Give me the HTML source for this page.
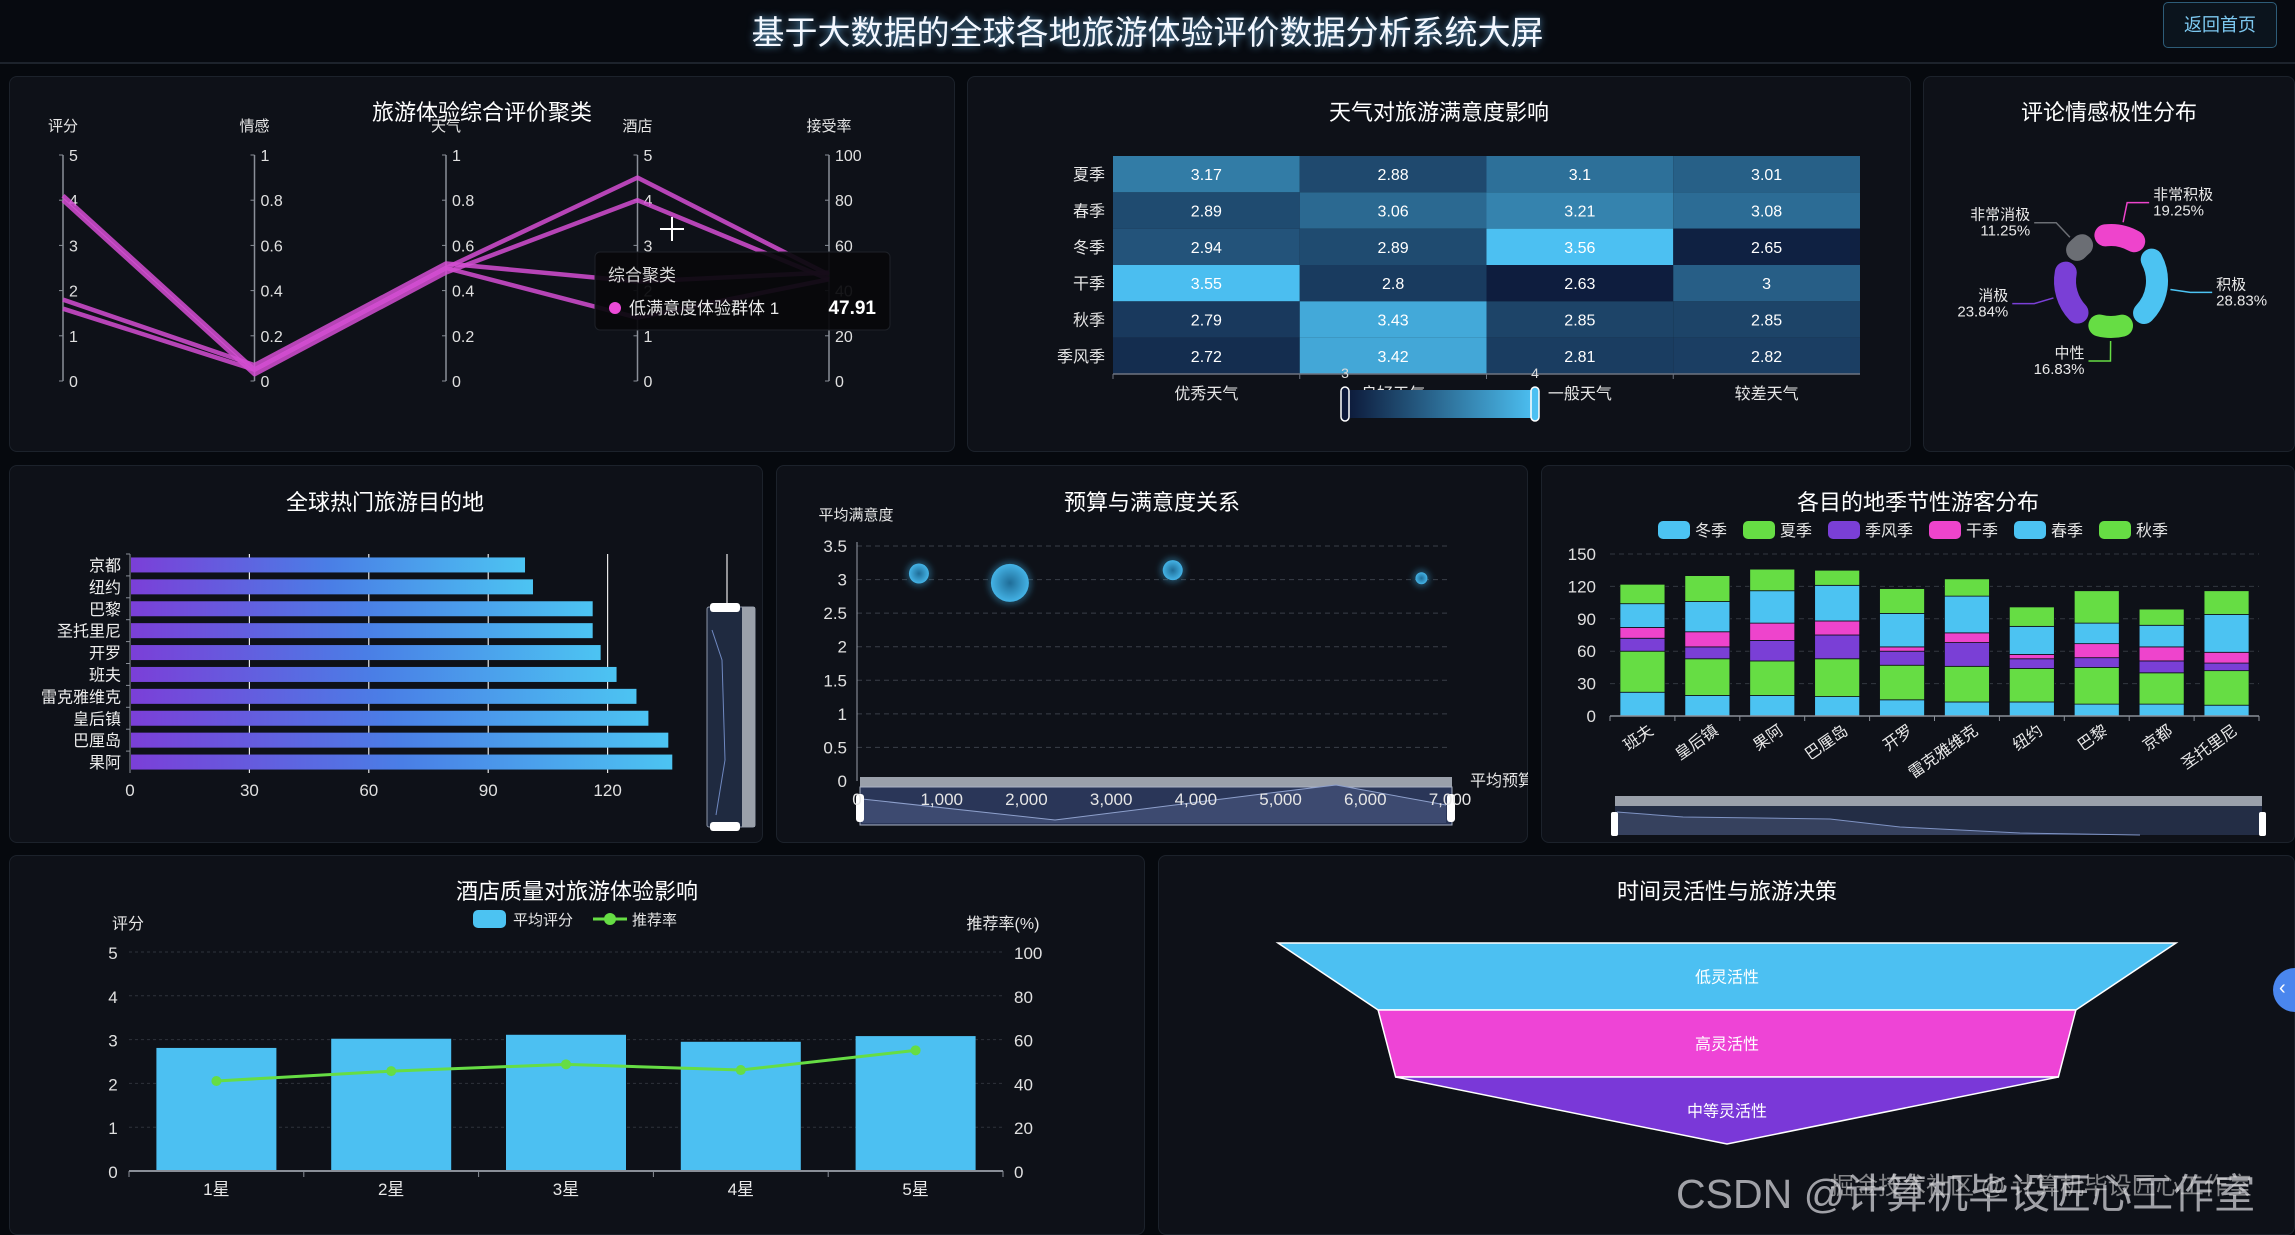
<!DOCTYPE html>
<html><head><meta charset="utf-8">
<style>
html,body{margin:0;padding:0;}
body{width:2295px;height:1229px;background:#06090e;overflow:hidden;position:relative;font-family:"Liberation Sans","Noto Sans CJK SC",sans-serif;color:#fff;}
.hdr{position:absolute;left:0;top:0;width:2295px;height:62px;border-bottom:2px solid #1d232c;background:#070a10;}
.htitle{position:absolute;left:0;width:2295px;top:6px;text-align:center;font-size:33px;color:#f4f8ff;text-shadow:0 0 8px rgba(120,200,255,.8);}
.btn{position:absolute;left:2163px;top:2px;width:112px;height:44px;border:1px solid #2d5c78;border-radius:5px;color:#7cc8f0;font-size:18px;line-height:44px;text-align:center;background:#0b141d;}
.panel{position:absolute;background:#0e1118;border:1px solid #1c222b;border-radius:8px;box-sizing:border-box;}
svg text{font-family:"Liberation Sans","Noto Sans CJK SC",sans-serif;}
</style></head>
<body>
<div class="hdr">
<div class="htitle">基于大数据的全球各地旅游体验评价数据分析系统大屏</div>
<div class="btn">返回首页</div>
</div>
<div class="panel" style="left:9px;top:76px;width:946px;height:376px"></div>
<div class="panel" style="left:967px;top:76px;width:944px;height:376px"></div>
<div class="panel" style="left:1923px;top:76px;width:372px;height:376px"></div>
<div class="panel" style="left:9px;top:465px;width:754px;height:378px"></div>
<div class="panel" style="left:776px;top:465px;width:752px;height:378px"></div>
<div class="panel" style="left:1541px;top:465px;width:754px;height:378px"></div>
<div class="panel" style="left:9px;top:855px;width:1136px;height:380px"></div>
<div class="panel" style="left:1158px;top:855px;width:1137px;height:380px"></div>

<svg id="charts" width="2295" height="1229" style="position:absolute;left:0;top:0">
<defs>
<linearGradient id="hbarGrad" x1="0" x2="1" y1="0" y2="0"><stop offset="0" stop-color="#7b3fd8"/><stop offset="0.5" stop-color="#4a7ee6"/><stop offset="1" stop-color="#4cc4f2"/></linearGradient>
<linearGradient id="vmGrad" x1="0" x2="1" y1="0" y2="0"><stop offset="0" stop-color="#0c1838"/><stop offset="1" stop-color="#4cc0f2"/></linearGradient>
<radialGradient id="bubbleGrad"><stop offset="0" stop-color="#1f6d98"/><stop offset="1" stop-color="#44b3e6"/></radialGradient>
<filter id="glow" x="-50%" y="-50%" width="200%" height="200%"><feGaussianBlur stdDeviation="3"/></filter>
<clipPath id="budgetClip"><rect x="776" y="465" width="752" height="378"/></clipPath>
</defs>
<g fill="#ffffff" font-size="22" text-anchor="middle">
<text x="482" y="120">旅游体验综合评价聚类</text>
<text x="1439" y="120">天气对旅游满意度影响</text>
<text x="2109" y="120">评论情感极性分布</text>
<text x="385" y="510">全球热门旅游目的地</text>
<text x="1152" y="510">预算与满意度关系</text>
<text x="1918" y="510">各目的地季节性游客分布</text>
<text x="577" y="899">酒店质量对旅游体验影响</text>
<text x="1727" y="899">时间灵活性与旅游决策</text>
</g>
</svg>
<div style="position:absolute;left:2273px;top:968px;width:44px;height:44px;border-radius:22px;background:#4a86ee;"><span style="position:absolute;left:6px;top:9px;color:#fff;font-size:20px">‹</span></div>
<div style="position:absolute;left:1676px;top:1160px;font-size:41px;color:rgba(210,210,215,0.75);white-space:nowrap;letter-spacing:0px">CSDN @计算机毕设匠心工作室</div>
<div style="position:absolute;left:1830px;top:1166px;font-size:24px;color:rgba(230,230,230,0.55);white-space:nowrap">掘金技术社区 @ 计算机毕设匠心工作室</div>

<script>
// ---------- data ----------
const pcAxes=['评分','情感','天气','酒店','接受率'];
const pcMax=[5,1,1,5,100];
const pcLine1=[4.1,0.05,0.5,4.5,47];
const pcLine2=[4.0,0.03,0.48,4.0,45];
const pcLine3=[1.8,0.07,0.52,2.2,48];
const pcLine4=[1.6,0.05,0.5,1.4,45];

const hmRows=['夏季','春季','冬季','干季','秋季','季风季'];
const hmCols=['优秀天气','良好天气','一般天气','较差天气'];
const hmSummer=[3.17,2.88,3.1,3.01];
const hmSpring=[2.89,3.06,3.21,3.08];
const hmWinter=[2.94,2.89,3.56,2.65];
const hmDry=[3.55,2.8,2.63,3];
const hmAutumn=[2.79,3.43,2.85,2.85];
const hmMonsoon=[2.72,3.42,2.81,2.82];

const sentLabels=['非常积极','积极','中性','消极','非常消极'];
const sentValues=[19.25,28.83,16.83,23.84,11.25];

const destNames=['京都','纽约','巴黎','圣托里尼','开罗','班夫','雷克雅维克','皇后镇','巴厘岛','果阿'];
const destCounts=[99,101,116,116,118,122,127,130,135,136];
const destTicks=[0,30,60,90,120,150];

const budgetX=[731,1805,3727,6663];
const satisY=[3.09,2.95,3.14,3.02];
const bubbleSize=[10,19,10,6];
const scatterYTicks=[0,0.5,1,1.5,2,2.5,3,3.5];
const scatterXTicks=[0,1000,2000,3000,4000,5000,6000,7000];

const stackCities=['班夫','皇后镇','果阿','巴厘岛','开罗','雷克雅维克','纽约','巴黎','京都','圣托里尼'];
const seasonNames=['冬季','夏季','季风季','干季','春季','秋季'];
const sWinter=[22,19,19,18,15,13,13,11,11,10];
const sSummer=[38,34,32,35,32,33,31,34,29,32];
const sMonsoon=[12,11,19,22,13,22,9,9,11,7];
const sDry=[10,14,16,13,4,9,4,13,13,10];
const sSpring=[22,28,30,33,31,34,26,19,20,35];
const sAutumn=[18,24,20,14,23,16,18,30,15,22];
const stackTicks=[0,30,60,90,120,150];

const stars=['1星','2星','3星','4星','5星'];
const avgScore=[2.81,3.02,3.11,2.95,3.08];
const recRate=[41.1,45.6,48.7,46.1,55.1];

const funnelNames=['低灵活性','高灵活性','中等灵活性'];
const funnelValues=[100,77.7,73.8];

// ---------- helpers ----------
const NS='http://www.w3.org/2000/svg';
const svg=document.getElementById('charts');
function mk(tag,attrs,parent){const e=document.createElementNS(NS,tag);for(const k in attrs)e.setAttribute(k,attrs[k]);(parent||svg).appendChild(e);return e;}
function tx(x,y,s,attrs,parent){const t=mk('text',Object.assign({x:x,y:y},attrs||{}),parent);t.textContent=s;return t;}

// ---------- 1. parallel coordinates ----------
(function(){
  const g=mk('g',{});
  
  
  const x0=63,dx=191.5,yTop=155,yBot=381;
  const ax=i=>x0+i*dx;
  const ay=(v,i)=>yBot-v/pcMax[i]*(yBot-yTop);
  pcAxes.forEach((name,i)=>{
    const x=ax(i);
    const l=mk('line',{x1:x,x2:x,y1:yTop,y2:yBot,stroke:'#8a8f98','stroke-width':1.5},g);
    
    
    const t=tx(x,131,name,{fill:'#e6e6e6','font-size':15,'text-anchor':'middle'},g);
    
    
    for(let k=0;k<=5;k++){
      const v=pcMax[i]*k/5;const y=ay(v,i);
      mk('line',{x1:x-4,x2:x,y1:y,y2:y,stroke:'#8a8f98'},g);
      const lab=tx(x+6,y+6,String(Math.round(v*100)/100),{fill:'#e0e0e0','font-size':16},g);
      
      
    }
  });
  [pcLine1,pcLine2,pcLine3,pcLine4].forEach((arr,j)=>{
    const pts=arr.map((v,i)=>ax(i)+','+ay(v,i)).join(' ');
    const p=mk('polyline',{points:pts,fill:'none',stroke:'#d44dd2','stroke-width':4.5,'stroke-opacity':0.85,'stroke-linejoin':'round'},g);
    
    
  });
  mk('path',{d:'M672 217 V241 M660 229 H684',stroke:'#fff','stroke-width':2},g);
  const tip=mk('g',{},g);
  
  
  mk('rect',{x:595,y:252,width:295,height:78,rx:5,fill:'#07080b','fill-opacity':0.93,stroke:'#1e2128'},tip);
  tx(608,281,'综合聚类',{fill:'#d8d8d8','font-size':17},tip);
  mk('circle',{cx:615,cy:308,r:6,fill:'#ec4bd8'},tip);
  tx(629,314,'低满意度体验群体 1',{fill:'#e8e8e8','font-size':17},tip);
  tx(876,314,'47.91',{fill:'#fff','font-size':19,'font-weight':'bold','text-anchor':'end'},tip);
})();

// ---------- 2. heatmap ----------
(function(){
  const g=mk('g',{});
  
  
  const x0=1113,x1=1860,y0=156,y1=374;
  const cw=(x1-x0)/hmCols.length,ch=(y1-y0)/hmRows.length;
  const vals=[hmSummer,hmSpring,hmWinter,hmDry,hmAutumn,hmMonsoon];
  const lo=[12,24,56],hi=[76,192,242];
  function col(v){let t=(v-2.6)/(3.56-2.6);t=Math.max(0,Math.min(1,t));return 'rgb('+lo.map((c,i)=>Math.round(c+(hi[i]-c)*t)).join(',')+')';}
  hmRows.forEach((r,ri)=>{
    const t=tx(x0-8,y0+ch*ri+ch/2+6,r,{fill:'#e6e6e6','font-size':16,'text-anchor':'end'},g);
    
    
    hmCols.forEach((c,ci)=>{
      const v=vals[ri][ci];
      const rc=mk('rect',{x:x0+cw*ci,y:y0+ch*ri,width:cw,height:ch,fill:col(v)},g);
      
      
      const vt=tx(x0+cw*ci+cw/2,y0+ch*ri+ch/2+6,String(v),{fill:'#fff','font-size':16,'text-anchor':'middle'},g);
      
      
    });
  });
  mk('line',{x1:x0,x2:x1,y1:y1,y2:y1,stroke:'#6e7480','stroke-width':1.5},g);
  hmCols.forEach((c,ci)=>{
    mk('line',{x1:x0+cw*ci,x2:x0+cw*ci,y1:y1,y2:y1+5,stroke:'#6e7480'},g);
    const t=tx(x0+cw*ci+cw/2,399,c,{fill:'#e6e6e6','font-size':16,'text-anchor':'middle'},g);
    
    
  });
  const vm=mk('g',{},g);
  
  
  mk('rect',{x:1345,y:390,width:190,height:28,fill:'url(#vmGrad)'},vm);
  mk('rect',{x:1341,y:387,width:8,height:34,rx:4,fill:'#0c1838',stroke:'#fff','stroke-width':1.5},vm);
  mk('rect',{x:1531,y:387,width:8,height:34,rx:4,fill:'#4cc0f2',stroke:'#fff','stroke-width':1.5},vm);
  tx(1345,378,'3',{fill:'#ddd','font-size':14,'text-anchor':'middle'},vm);
  tx(1535,378,'4',{fill:'#ddd','font-size':14,'text-anchor':'middle'},vm);
})();

// ---------- 3. donut ----------
(function(){
  const g=mk('g',{});
  
  
  const cx=2111,cy=281,r=46;
  const colors=['#ee44cc','#4cc3f2','#66dd44','#7a3fd6','#6b6e74'];
  const total=sentValues.reduce((a,b)=>a+b,0);
  let a=-23;
  const pt=(deg,rr)=>[cx+rr*Math.sin(deg*Math.PI/180),cy-rr*Math.cos(deg*Math.PI/180)];
  sentValues.forEach((v,i)=>{
    const span=v/total*360;
    const s=a+16,e=a+span-16;
    const p1=pt(s,r),p2=pt(Math.max(e,s+0.5),r);
    const arc=mk('path',{d:'M'+p1[0]+' '+p1[1]+' A'+r+' '+r+' 0 0 1 '+p2[0]+' '+p2[1],fill:'none',stroke:colors[i],'stroke-width':22,'stroke-linecap':'round'},g);
    
    
    const mid=a+span/2;
    const q1=pt(mid,60),q2=pt(mid,80);
    const right=Math.sin(mid*Math.PI/180)>=0;
    const q3=[q2[0]+(right?22:-22),q2[1]];
    mk('polyline',{points:[q1,q2,q3].map(p=>p.join(',')).join(' '),fill:'none',stroke:colors[i],'stroke-width':1.5},g);
    const lx=q3[0]+(right?4:-4),anchor=right?'start':'end';
    const t1=tx(lx,q3[1]-3,sentLabels[i],{fill:'#e8e8e8','font-size':15,'text-anchor':anchor},g);
    
    
    tx(lx,q3[1]+13,v.toFixed(2)+'%',{fill:'#e8e8e8','font-size':15,'text-anchor':anchor},g);
    a+=span;
  });
})();

// ---------- 4. horizontal bars ----------
(function(){
  const g=mk('g',{});
  
  
  const x0=130,x150=727,yTop=554,yBot=773;
  const sx=v=>x0+v/150*(x150-x0);
  const band=(yBot-yTop)/destNames.length;
  destTicks.forEach(v=>{
    if(v>0) mk('line',{x1:sx(v),x2:sx(v),y1:yTop,y2:yBot,stroke:'#e8e8e8','stroke-width':1.2},g);
    const t=tx(sx(v),796,String(v),{fill:'#e0e0e0','font-size':17,'text-anchor':'middle'},g);
    
    
  });
  mk('line',{x1:x0,x2:x0,y1:yTop,y2:yBot,stroke:'#8a8f98'},g);
  destNames.forEach((n,i)=>{
    const yc=yTop+band*i+band/2;
    mk('line',{x1:x0-4,x2:x0,y1:yTop+band*i,y2:yTop+band*i,stroke:'#8a8f98'},g);
    const b=mk('rect',{x:x0+1,y:yc-7.5,width:sx(destCounts[i])-x0,height:15,fill:'url(#hbarGrad)'},g);
    
    
    const t=tx(x0-9,yc+6,n,{fill:'#eee','font-size':16,'text-anchor':'end'},g);
    
    
  });
  const dz=mk('g',{},g);
  
  
  mk('rect',{x:707,y:607,width:48,height:220,rx:2,fill:'#1f2a40',stroke:'#8d96a8'},dz);
  mk('rect',{x:742,y:607,width:13,height:220,fill:'#9aa0aa'},dz);
  mk('rect',{x:710,y:603,width:30,height:9,rx:3,fill:'#fff'},dz);
  mk('rect',{x:710,y:822,width:30,height:9,rx:3,fill:'#fff'},dz);
  mk('polyline',{points:'712,630 722,660 725,760 716,815',fill:'none',stroke:'#6f88c0'},dz);
})();

// ---------- 5. scatter ----------
(function(){
  const g=mk('g',{'clip-path':'url(#budgetClip)'});
  
  
  const x0=857,x7=1450,y0=781,y35=546;
  const sx=v=>x0+v/7000*(x7-x0);
  const sy=v=>y0-v/3.5*(y0-y35);
  scatterYTicks.forEach(v=>{
    if(v>0) mk('line',{x1:x0,x2:1448,y1:sy(v),y2:sy(v),stroke:'#3a3f48','stroke-dasharray':'5,4'},g);
    const t=tx(x0-10,sy(v)+6,String(v),{fill:'#e0e0e0','font-size':17,'text-anchor':'end'},g);
    
    
  });
  mk('line',{x1:x0,x2:x0,y1:y35-4,y2:y0,stroke:'#9aa0aa'},g);
  const yt=tx(856,520,'平均满意度',{fill:'#e6e6e6','font-size':15,'text-anchor':'middle'},g);
  
  
  const dz=mk('g',{},g);
  
  
  mk('rect',{x:860,y:777,width:592,height:10,fill:'#9aa0aa'},dz);
  mk('rect',{x:860,y:787,width:592,height:38,fill:'#2a3658',stroke:'#aab2c4'},dz);
  mk('polygon',{points:'862,799 1055,820 1254,795 1336,785 1446,805 1446,823 862,823',fill:'#3d4a70'},dz);
  mk('polyline',{points:'862,799 1055,820 1254,795 1336,785 1446,805',fill:'none',stroke:'#8ea0cc'},dz);
  mk('rect',{x:856,y:794,width:8,height:28,rx:3,fill:'#fff'},dz);
  mk('rect',{x:1447,y:794,width:8,height:28,rx:3,fill:'#fff'},dz);
  scatterXTicks.forEach(v=>{
    const t=tx(sx(v),805,v.toLocaleString('en-US'),{fill:'#e6e6e6','font-size':17,'text-anchor':'middle'},g);
    
    
  });
  const xt=tx(1470,786,'平均预算',{fill:'#e6e6e6','font-size':16},g);
  
  
  budgetX.forEach((b,i)=>{
    mk('circle',{cx:sx(b),cy:sy(satisY[i]),r:bubbleSize[i]+3,fill:'#3fa8dc','fill-opacity':0.35,filter:'url(#glow)'},g);
    const c=mk('circle',{cx:sx(b),cy:sy(satisY[i]),r:bubbleSize[i],fill:'url(#bubbleGrad)'},g);
    
    
  });
})();

// ---------- 6. stacked bars ----------
(function(){
  const g=mk('g',{});
  
  
  const x0=1610,x1=2259,y0=716,y150=554;
  const sy=v=>y0-v/150*(y0-y150);
  const band=(x1-x0)/stackCities.length;
  const series=[sWinter,sSummer,sMonsoon,sDry,sSpring,sAutumn];
  const colors=['#4cc3f2','#66dd44','#7a3fd6','#ee44cc','#4cc3f2','#66dd44'];
  stackTicks.forEach(v=>{
    if(v>0) mk('line',{x1:x0,x2:x1,y1:sy(v),y2:sy(v),stroke:'#333840','stroke-dasharray':'5,4'},g);
    const t=tx(x0-14,sy(v)+6,String(v),{fill:'#e0e0e0','font-size':17,'text-anchor':'end'},g);
    
    
  });
  let lx=1658;
  seasonNames.forEach((n,i)=>{
    const r=mk('rect',{x:lx,y:521,width:32,height:18,rx:5,fill:colors[i]},g);
    
    
    tx(lx+37,536,n,{fill:'#e6e6e6','font-size':16},g);
    lx+=32+6+n.length*16+15;
  });
  stackCities.forEach((c,i)=>{
    const xc=x0+band*i+band/2;let acc=0;
    series.forEach((arr,si)=>{
      const v=arr[i];
      const r=mk('rect',{x:xc-22.5,y:sy(acc+v),width:45,height:sy(acc)-sy(acc+v),fill:colors[si],stroke:'#0e1118','stroke-width':0.8},g);
      
      
      acc+=v;
    });
    mk('line',{x1:x0+band*i,x2:x0+band*i,y1:y0,y2:y0+5,stroke:'#8a8f98'},g);
    const t=tx(xc+12,y0+17,c,{fill:'#e8e8e8','font-size':16,'text-anchor':'end',transform:'rotate(-35 '+(xc+12)+' '+(y0+17)+')'},g);
    
    
  });
  mk('line',{x1:x0,x2:x1,y1:y0,y2:y0,stroke:'#8a8f98','stroke-width':1.5},g);
  mk('line',{x1:x1,x2:x1,y1:y0,y2:y0+5,stroke:'#8a8f98'},g);
  const dz=mk('g',{},g);
  
  
  mk('rect',{x:1615,y:796,width:647,height:10,fill:'#9aa0aa'},dz);
  mk('rect',{x:1615,y:806,width:647,height:29,fill:'#232d45'},dz);
  mk('polygon',{points:'1617,812 1683,817 1830,819 1900,827 2020,833 2140,835 2262,835 1617,835',fill:'#36415e'},dz);
  mk('polyline',{points:'1617,812 1683,817 1830,819 1900,827 2020,833 2140,835',fill:'none',stroke:'#7f93c4'},dz);
  mk('rect',{x:1611,y:812,width:7,height:24,rx:2,fill:'#fff'},dz);
  mk('rect',{x:2259,y:812,width:7,height:24,rx:2,fill:'#fff'},dz);
})();

// ---------- 7. hotel combo ----------
(function(){
  const g=mk('g',{});
  
  
  const x0=129,x1=1003,y0=1171,y5=952;
  const sy=v=>y0-v/5*(y0-y5);
  const sr=v=>y0-v/100*(y0-y5);
  const band=(x1-x0)/stars.length;
  for(let k=0;k<=5;k++){
    if(k>0) mk('line',{x1:x0,x2:x1,y1:sy(k),y2:sy(k),stroke:'#2e333b','stroke-dasharray':'3,3'},g);
    const t=tx(113,sy(k)+7,String(k),{fill:'#e0e0e0','font-size':17,'text-anchor':'middle'},g);
    
    
    const t2=tx(1014,sr(k*20)+7,String(k*20),{fill:'#e0e0e0','font-size':17},g);
    
    
  }
  tx(128,929,'评分',{fill:'#e6e6e6','font-size':16,'text-anchor':'middle'},g);
  tx(1003,929,'推荐率(%)',{fill:'#e6e6e6','font-size':16,'text-anchor':'middle'},g);
  const lg=mk('g',{},g);
  
  
  mk('rect',{x:473,y:910,width:33,height:18,rx:5,fill:'#4cc3f2'},lg);
  tx(513,925,'平均评分',{fill:'#e6e6e6','font-size':15},lg);
  mk('line',{x1:593,x2:627,y1:919,y2:919,stroke:'#66dd44','stroke-width':3},lg);
  mk('circle',{cx:610,cy:919,r:6,fill:'#66dd44'},lg);
  tx(632,925,'推荐率',{fill:'#e6e6e6','font-size':15},lg);
  stars.forEach((s,i)=>{
    const xc=x0+band*i+band/2;
    const b=mk('rect',{x:xc-60,y:sy(avgScore[i]),width:120,height:y0-sy(avgScore[i]),fill:'#4cc0f2'},g);
    
    
    mk('line',{x1:x0+band*i,x2:x0+band*i,y1:y0,y2:y0+6,stroke:'#8a8f98'},g);
    const t=tx(xc,1195,s,{fill:'#e8e8e8','font-size':17,'text-anchor':'middle'},g);
    
    
  });
  mk('line',{x1:x0,x2:x1,y1:y0,y2:y0,stroke:'#8a8f98','stroke-width':2},g);
  mk('line',{x1:x1,x2:x1,y1:y0,y2:y0+6,stroke:'#8a8f98'},g);
  const pts=stars.map((s,i)=>(x0+band*i+band/2)+','+sr(recRate[i])).join(' ');
  const pl=mk('polyline',{points:pts,fill:'none',stroke:'#66dd44','stroke-width':3},g);
  
  
  stars.forEach((s,i)=>{
    const c=mk('circle',{cx:x0+band*i+band/2,cy:sr(recRate[i]),r:5,fill:'#66dd44'},g);
    
    
  });
})();

// ---------- 8. funnel ----------
(function(){
  const g=mk('g',{});
  
  
  const cx=1727,maxW=898,yTop=943,h=67;
  const mx=Math.max.apply(null,funnelValues);
  const colors=['#4cc0f2','#ee44d6','#7a38d8'];
  funnelNames.forEach((n,i)=>{
    const wt=funnelValues[i]/mx*maxW;
    const wb=i+1<funnelValues.length?funnelValues[i+1]/mx*maxW:0;
    const y1=yTop+h*i,y2=y1+h;
    const p=mk('polygon',{points:[[cx-wt/2,y1],[cx+wt/2,y1],[cx+wb/2,y2],[cx-wb/2,y2]].map(q=>q.join(',')).join(' '),fill:colors[i],stroke:'#ffffff','stroke-width':1.5},g);
    
    
    const t=tx(cx,y1+h/2+6,n,{fill:'#fff','font-size':16,'text-anchor':'middle'},g);
    
    
  });
})();
</script>
</body></html>
